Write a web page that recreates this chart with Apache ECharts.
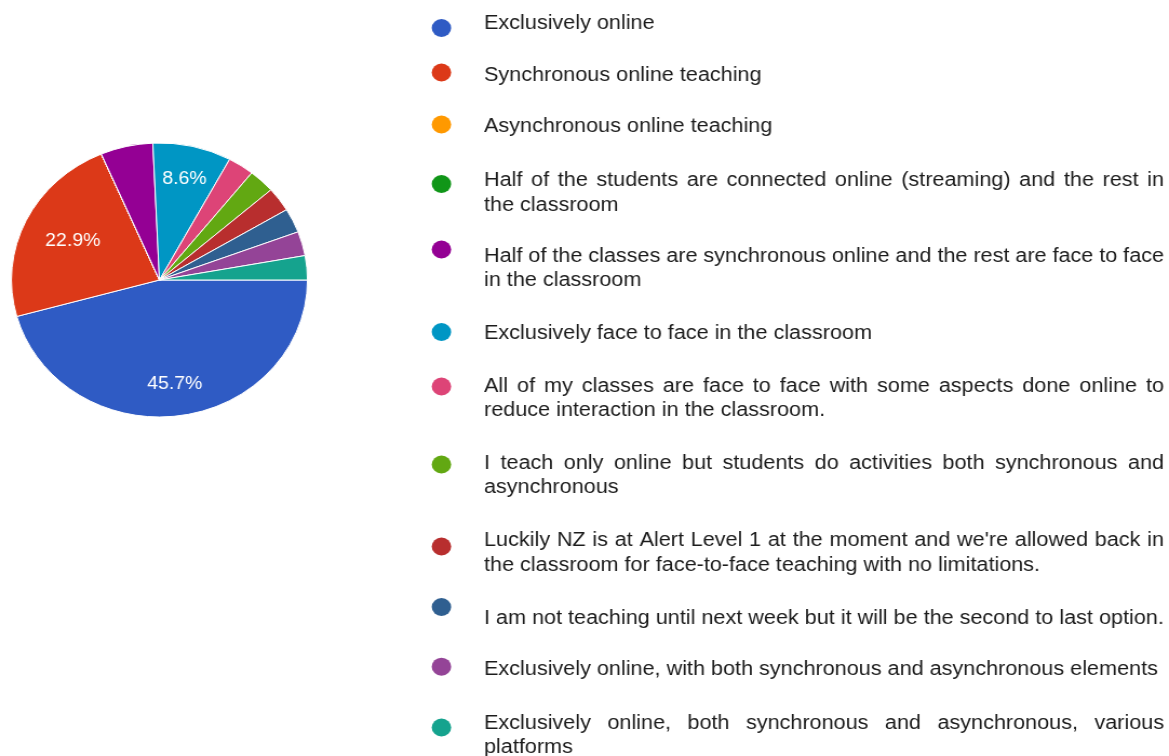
<!DOCTYPE html>
<html><head><meta charset="utf-8">
<script src="https://cdn.jsdelivr.net/npm/echarts@6/dist/echarts.min.js"></script>
<style>
html,body{margin:0;padding:0;background:#fff;overflow:hidden}
#wrap{width:1169px;height:756px;overflow:hidden;position:relative}
#chart{width:1082px;height:756px;transform:scaleX(1.0804);transform-origin:0 0}
</style></head><body>
<div id="wrap"><div id="chart"></div></div>
<script>
// ---- data ----
const legendLines = [
  ['Exclusively online'],
  ['Synchronous online teaching'],
  ['Asynchronous online teaching'],
  ['Half of the students are connected online (streaming) and the rest in', 'the classroom'],
  ['Half of the classes are synchronous online and the rest are face to face', 'in the classroom'],
  ['Exclusively face to face in the classroom'],
  ['All of my classes are face to face with some aspects done online to', 'reduce interaction in the classroom.'],
  ['I teach only online but students do activities both synchronous and', 'asynchronous'],
  ["Luckily NZ is at Alert Level 1 at the moment and we're allowed back in", 'the classroom for face-to-face teaching with no limitations.'],
  ['I am not teaching until next week but it will be the second to last option.'],
  ['Exclusively online, with both synchronous and asynchronous elements'],
  ['Exclusively online, both synchronous and asynchronous, various', 'platforms']
];
const categories = legendLines.map(l => l.join(' '));
const counts = [16, 8, 0, 0, 2, 3, 1, 1, 1, 1, 1, 1];
const sliceColors = ['#2f5bc4', '#dc3918', '#ff9900', '#109618', '#940094', '#0096c4',
                     '#dd4477', '#62a812', '#b82e2e', '#2f5f90', '#944497', '#15a38e'];

// ---- layout / style constants ----
const FONT = 'Liberation Sans';
const TEXT_COLOR = '#1c1c1c';
const FS = 20, LH = 24.5, ICON = 18, LABEL_FS = 18;
const CX = 147.6, CY = 280, R = 137, LABEL_OUTER = 115;
const ICON_LEFT = 399.6, TEXT_X = 448.0, JUSTIFY_W = 629.4;
const iconY = [28, 72.5, 124.5, 184, 249.5, 332, 386.5, 464.5, 546.5, 607, 666.7, 727.5];
const textY = [23.5, 75.5, 126.7, 180.5, 256, 333, 386, 463.3, 540.5, 618, 669.7, 723];

const total = counts.reduce((a, b) => a + b, 0);

const mctx = document.createElement('canvas').getContext('2d');
mctx.font = FS + 'px "' + FONT + '"';
function buildLabel(lines) {
  const rich = {};
  let used = false;
  const out = lines.map((line, li) => {
    if (li === lines.length - 1) return line;
    const words = line.split(' ');
    const w = words.reduce((s, wd) => s + mctx.measureText(wd).width, 0);
    const gap = (JUSTIFY_W - w) / (words.length - 1);
    if (!(gap > 2)) return line;
    const key = 'g' + li;
    rich[key] = {width: gap, fontSize: FS, fontFamily: FONT, lineHeight: LH, color: TEXT_COLOR};
    used = true;
    return words.join('{' + key + '| }');
  });
  return {text: out.join('\n'), rich: used ? rich : undefined};
}

const legends = [];
categories.forEach((name, i) => {
  // icon only
  legends.push({
    orient: 'vertical', left: ICON_LEFT, top: iconY[i] - ICON / 2,
    padding: 0, itemGap: 0, itemWidth: ICON, itemHeight: ICON, icon: 'circle',
    itemStyle: {borderWidth: 0},
    selectedMode: false, data: [name], formatter: () => '',
    textStyle: {fontSize: 4, lineHeight: 4}
  });
  // text only
  const lab = buildLabel(legendLines[i]);
  const ts = {fontSize: FS, fontFamily: FONT, color: TEXT_COLOR, lineHeight: LH,
              backgroundColor: 'rgba(255,255,255,0)'};
  if (lab.rich) ts.rich = lab.rich;
  legends.push({
    orient: 'vertical', left: TEXT_X - 6, top: textY[i] - LH / 2,
    padding: 0, itemGap: 0, itemWidth: 1, itemHeight: 1, icon: 'circle',
    itemStyle: {opacity: 0, borderWidth: 0},
    selectedMode: false, data: [name], formatter: () => lab.text,
    textStyle: ts
  });
});

const chart = echarts.init(document.getElementById('chart'), null, {renderer: 'canvas'});
chart.setOption({
  animation: false,
  backgroundColor: '#fff',
  color: sliceColors,
  legend: legends,
  series: [{
    type: 'pie',
    center: [CX, CY],
    radius: [0, R],
    startAngle: 0,
    clockwise: true,
    avoidLabelOverlap: false,
    data: categories.map((c, i) => ({name: c, value: counts[i]})),
    itemStyle: {borderColor: '#fff', borderWidth: 1},
    label: {
      show: true, position: 'inside', color: '#fff', fontSize: LABEL_FS, fontFamily: FONT,
      formatter: p => {
        const pct = p.value / total * 100;
        return pct >= 7 ? pct.toFixed(1) + '%' : '';
      }
    },
    labelLine: {show: false},
    labelLayout: function (p) {
      const r = p.labelRect;
      if (!r || !r.width) return {};
      const lx = r.x + r.width / 2 - CX, ly = r.y + r.height / 2 - CY;
      const dist = Math.sqrt(lx * lx + ly * ly) || 1;
      const ux = lx / dist, uy = ly / dist;
      const proj = (r.width / 2) * Math.abs(ux) + (LABEL_FS * 0.38) * Math.abs(uy);
      const target = LABEL_OUTER - proj;
      return {dx: ux * (target - dist), dy: uy * (target - dist)};
    },
    emphasis: {disabled: true}
  }]
});
</script>
</body></html>
